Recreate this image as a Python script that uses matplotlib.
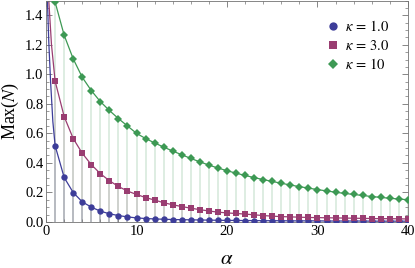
import numpy as np
import matplotlib
matplotlib.use('Agg')
import matplotlib.pyplot as plt
from matplotlib.ticker import MultipleLocator

plt.rcParams['font.family'] = ['Liberation Serif', 'DejaVu Serif']
plt.rcParams['mathtext.fontset'] = 'stix'

# ---- data ----
alpha = np.arange(1, 41)

max_k1 = [0.517, 0.301, 0.199, 0.136, 0.100, 0.073, 0.055, 0.043, 0.034, 0.027,
          0.023, 0.020, 0.018, 0.016, 0.015, 0.014, 0.013, 0.012, 0.011, 0.010,
          0.010, 0.009, 0.009, 0.008, 0.008, 0.008, 0.007, 0.007, 0.007, 0.007,
          0.006, 0.006, 0.006, 0.006, 0.006, 0.005, 0.005, 0.005, 0.005, 0.005]
max_k3 = [0.954, 0.714, 0.565, 0.465, 0.388, 0.327, 0.279, 0.240, 0.209, 0.186,
          0.165, 0.148, 0.130, 0.116, 0.104, 0.093, 0.083, 0.074, 0.066, 0.061,
          0.057, 0.053, 0.048, 0.043, 0.039, 0.036, 0.034, 0.032, 0.030, 0.029,
          0.028, 0.027, 0.026, 0.025, 0.024, 0.023, 0.022, 0.022, 0.021, 0.020]
max_k10 = [1.49, 1.265, 1.105, 0.980, 0.890, 0.815, 0.755, 0.700, 0.650, 0.600,
           0.565, 0.535, 0.507, 0.480, 0.455, 0.430, 0.407, 0.385, 0.365, 0.347,
           0.330, 0.315, 0.300, 0.287, 0.274, 0.262, 0.250, 0.239, 0.229, 0.219,
           0.210, 0.201, 0.193, 0.186, 0.179, 0.172, 0.166, 0.160, 0.155, 0.150]

# curve lead-in before alpha = 1
lead_a_k1 = [0.15, 0.3, 0.5, 0.75]
lead_v_k1 = [1.5, 1.22, 0.95, 0.68]
lead_a_k3 = [0.3, 0.6]
lead_v_k3 = [1.5, 1.2]
lead_a_k10 = [0.95]
lead_v_k10 = [1.53]

labels = [r'$\kappa\,=\,1.0$', r'$\kappa\,=\,3.0$', r'$\kappa\,=\,10$']
colors = [(0.24, 0.24, 0.6), (0.6, 0.24, 0.442), (0.24, 0.6, 0.33)]
markers = ['o', 's', 'D']
msizes = [4.6, 4.0, 3.6]

series = [(max_k1, lead_a_k1, lead_v_k1),
          (max_k3, lead_a_k3, lead_v_k3),
          (max_k10, lead_a_k10, lead_v_k10)]

fig = plt.figure(figsize=(4.15, 2.68), dpi=100)
ax = fig.add_axes([0.111, 0.172, 0.872, 0.826])

# stems (filling to axis)
for (vals, _, _), c in zip(series, colors):
    ax.vlines(alpha, 0, vals, color=c, alpha=0.2, lw=1.2, zorder=1)

# smooth curves
for (vals, la, lv), c in zip(series, colors):
    xa = np.concatenate([la, alpha])
    ya = np.concatenate([lv, vals])
    ax.plot(xa, ya, color=c, lw=0.9, zorder=2)

# points
for (vals, _, _), c, m, ms, lab in zip(series, colors, markers, msizes, labels):
    ax.plot(alpha, vals, ls='none', marker=m, ms=ms, color=c,
            markeredgewidth=0, label=lab, zorder=3)

ax.set_xlim(0, 40)
ax.set_ylim(0, 1.5)
ax.xaxis.set_major_locator(MultipleLocator(10))
ax.xaxis.set_minor_locator(MultipleLocator(2))
ax.yaxis.set_major_locator(MultipleLocator(0.2))
ax.yaxis.set_minor_locator(MultipleLocator(0.05))
ax.yaxis.set_major_formatter(matplotlib.ticker.FormatStrFormatter('%.1f'))

ax.tick_params(which='both', direction='in', top=True, right=True,
               color='0.45', labelsize=10.5, pad=2)
ax.tick_params(which='major', length=4, width=0.6)
ax.tick_params(which='minor', length=2, width=0.5)
for s in ax.spines.values():
    s.set_color('0.45')
    s.set_linewidth(0.6)

ax.set_xlabel(r'$\alpha$', fontsize=15, labelpad=9)
ax.set_ylabel(r'Max($N$)', fontsize=13, labelpad=3)

leg = ax.legend(loc='upper right', frameon=False, fontsize=10.5,
                handlelength=0.8, handletextpad=0.4, labelspacing=0.3,
                borderaxespad=0.9, markerscale=1.3)

fig.savefig('out.png', dpi=100)
